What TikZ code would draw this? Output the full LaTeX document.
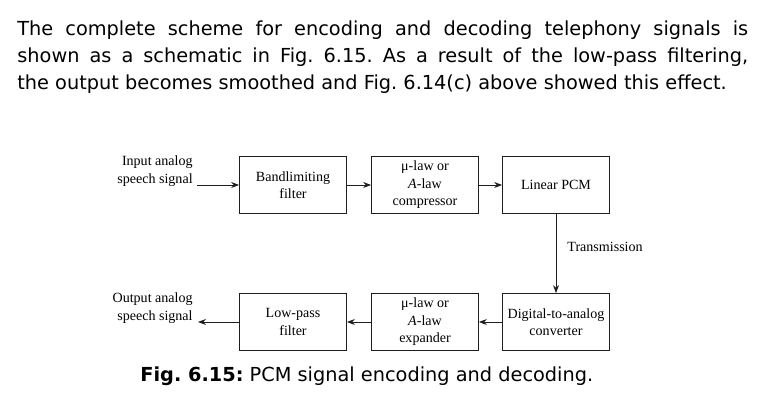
\documentclass[tikz,border=0pt]{standalone}
\usepackage{fontspec}
\setmainfont{DejaVu Sans}
\newfontfamily\diagfont{Liberation Serif}
\usetikzlibrary{arrows.meta}
\definecolor{c1e1e1e}{RGB}{30,30,30}
\def \bodysize {\fontsize{11}{15.6}\selectfont}
\def \blocksize {\diagfont\fontsize{8}{10}\selectfont}
\frenchspacing

\tikzset{
  block/.style={draw=c1e1e1e, line width=0.5pt, minimum width=2.14cm, minimum height=1.14cm, inner sep=0pt, align=center, font=\blocksize},
  label/.style={inner sep=0pt, font=\blocksize},
  flow/.style={draw=c1e1e1e, line width=0.5pt, -{Stealth[length=4.5pt,width=3.4pt]}}
}

\begin{document}
\begin{tikzpicture}[x=0.02cm, y=-0.02cm]
  \useasboundingbox (0,0) rectangle (760,418);

  \node[anchor=north west, inner sep=0pt, text width=14.62cm, align=justify, font=\bodysize] (para) at (17,20) {\parfillskip=0pt The complete scheme for encoding and decoding telephony signals is\linebreak shown as a schematic in Fig.~6.15. As a result of the low-pass filtering,\linebreak the output becomes smoothed and Fig.~6.14(c) above showed this effect.};

  \node[block] (band) at (293,185) {Bandlimiting\\filter};
  \node[block] (comp) at (425,185) {μ-law or\\\textit{A}-law\\compressor};
  \node[block] (pcm) at (556,185) {Linear PCM};

  \node[block] (lowpass) at (293,322) {Low-pass\\filter};
  \node[block] (expand) at (425,322) {μ-law or\\\textit{A}-law\\expander};
  \node[block] (dac) at (556,322) {Digital-to-analog\\converter};

  \node[label, anchor=east, align=right] (insig) at (193,171) {Input analog\\speech signal};
  \node[label, anchor=east, align=right] (outsig) at (193,308) {Output analog\\speech signal};
  \coordinate (instart) at (197,185);
  \coordinate (outend) at (198,322);

  \draw[flow] (instart) -- (band);
  \draw[flow] (band) -- (comp);
  \draw[flow] (comp) -- (pcm);
  \draw[flow] (pcm) -- node[label, anchor=west, pos=0.42, xshift=0.22cm] (trans) {Transmission} (dac);
  \draw[flow] (dac) -- (expand);
  \draw[flow] (expand) -- (lowpass);
  \draw[flow] (lowpass) -- (outend);

  \node[anchor=base west, inner sep=0pt, font=\bodysize] (caption) at (140,381) {\textbf{Fig.~6.15:} PCM signal encoding and decoding.};
\end{tikzpicture}
\end{document}
